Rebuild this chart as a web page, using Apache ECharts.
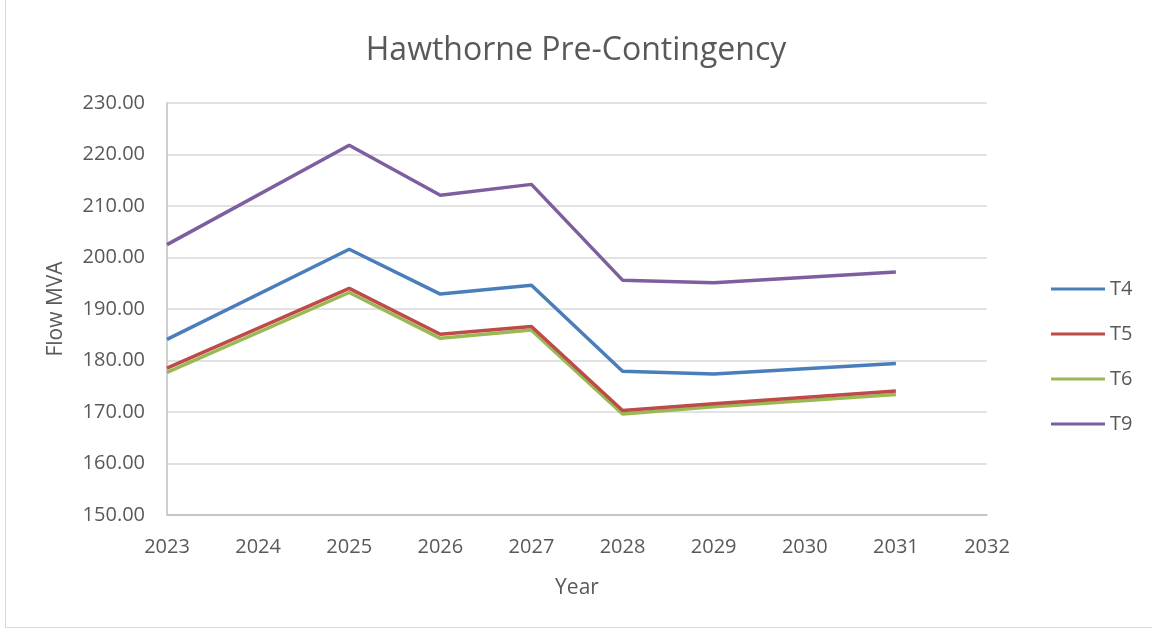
<!DOCTYPE html>
<html>
<head>
<meta charset="utf-8">
<script src="https://cdn.jsdelivr.net/npm/echarts@6/dist/echarts.min.js"></script>
<style>
  html, body { margin: 0; padding: 0; background: #fff; }
  #chart { width: 1152px; height: 631px; }
  #frame { position: absolute; left: 5px; top: -2px; width: 1160px; height: 628px; border: 1px solid #d9d9d9; pointer-events: none; }
</style>
</head>
<body>
<div id="chart"></div>
<div id="frame"></div>
<script>
// values
const years = [2023, 2025, 2026, 2027, 2028, 2029, 2031];
const t4 = [184.1, 201.6, 192.9, 194.6, 177.9, 177.4, 179.4];
const t5 = [178.5, 194.0, 185.1, 186.6, 170.3, 171.6, 174.1];
const t6 = [177.7, 193.2, 184.3, 185.9, 169.6, 171.0, 173.4];
const t9 = [202.5, 221.8, 212.1, 214.2, 195.6, 195.1, 197.2];
const seriesNames = ['T4', 'T5', 'T6', 'T9'];
const colors = ['#4a7ebb', '#be4b48', '#98b954', '#7d5fa0'];

const font = '"Open Sans", sans-serif';
const textColor = '#595959';

function pairs(vals) {
    return years.map((y, i) => [y, vals[i]]);
}

let myChart = echarts.init(document.getElementById('chart'));
myChart.setOption({
    animation: false,
    color: colors,
    title: {
        text: 'Hawthorne Pre-Contingency',
        left: 'center',
        top: 30,
        textStyle: { fontFamily: font, fontSize: 32, fontWeight: 'normal', color: textColor }
    },
    legend: {
        orient: 'vertical',
        left: 1046,
        top: 274,
        icon: 'rect',
        itemWidth: 54,
        itemHeight: 3,
        itemGap: 25,
        textStyle: { fontFamily: font, fontSize: 20, color: textColor },
        data: seriesNames
    },
    grid: { left: 167, right: 165, top: 103, bottom: 116 },
    xAxis: {
        type: 'value',
        min: 2023,
        max: 2032,
        interval: 1,
        name: 'Year',
        nameLocation: 'middle',
        nameGap: 63,
        nameTextStyle: { fontFamily: font, fontSize: 21, color: textColor },
        axisLine: { show: true, lineStyle: { color: '#bfbfbf', width: 1.5 } },
        axisTick: { show: false },
        splitLine: { show: false },
        axisLabel: {
            fontFamily: font, fontSize: 20, color: textColor, margin: 22,
            formatter: v => String(v)
        }
    },
    yAxis: {
        type: 'value',
        min: 150,
        max: 230,
        interval: 10,
        name: 'Flow MVA',
        nameLocation: 'middle',
        nameGap: 100,
        nameRotate: 90,
        nameTextStyle: { fontFamily: font, fontSize: 21, color: textColor },
        axisLine: { show: true, lineStyle: { color: '#bfbfbf', width: 1.5 } },
        axisTick: { show: false },
        splitLine: { lineStyle: { color: '#d9d9d9', width: 1.5 } },
        axisLabel: {
            fontFamily: font, fontSize: 20, color: textColor, margin: 22,
            formatter: v => v.toFixed(2)
        }
    },
    series: [t4, t5, t6, t9].map((vals, i) => ({
        name: seriesNames[i],
        type: 'line',
        data: pairs(vals),
        showSymbol: false,
        symbol: 'none',
        lineStyle: { width: 3.5 },
        z: 10 - i
    }))
});
</script>
</body>
</html>
